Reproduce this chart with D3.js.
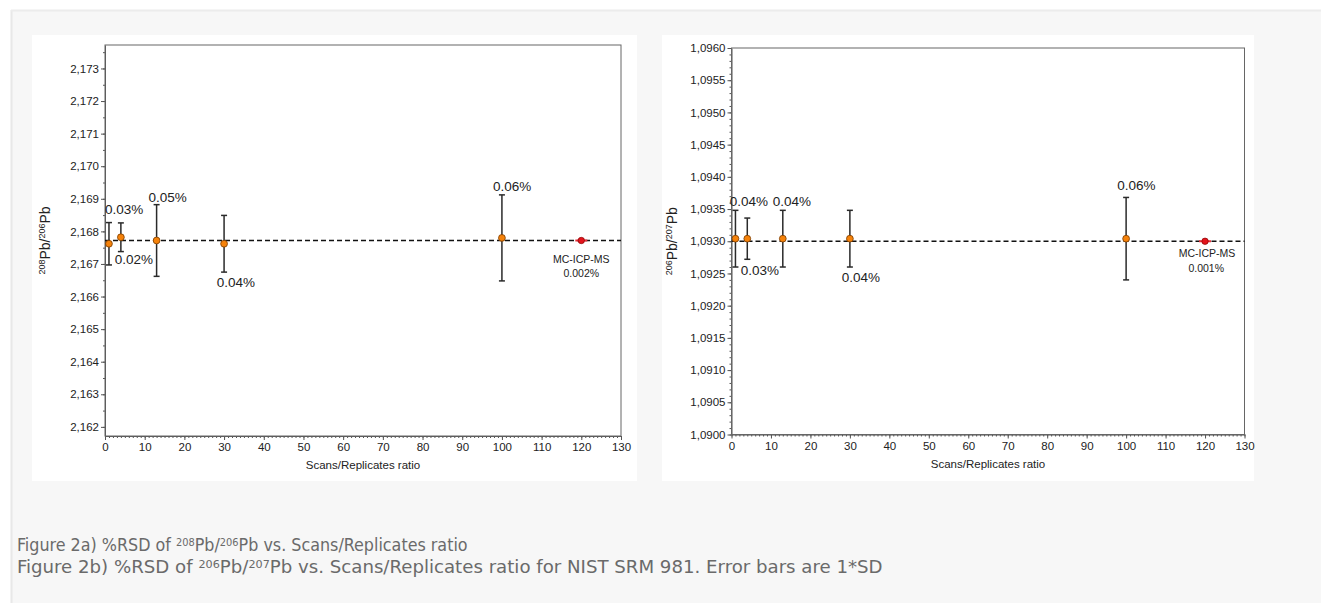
<!DOCTYPE html>
<html>
<head>
<meta charset="utf-8">
<script src="https://cdn.jsdelivr.net/npm/d3@7"></script>
<style>
  body { margin: 0; background: #fff; }
  svg { display: block; }
</style>
</head>
<body>
<div id="page"></div>
<script>
// x values (scans / replicates ratio)
const scansRatio = [1, 4, 13, 30, 100];
const mcRatio = [120];

// Fig 2a: 208Pb/206Pb, mean and 1*SD
const pb208_206 = [2.16762, 2.16782, 2.16772, 2.16762, 2.16780];
const pb208_206Sd = [0.00065, 0.00044, 0.0011, 0.00087, 0.00132];
const mc208_206 = [2.16772];
const mc208_206Sd = [0.00002];
const ref208_206 = 2.16772;

// Fig 2b: 206Pb/207Pb
const pb206_207 = [1.09304, 1.09304, 1.09304, 1.09304, 1.09304];
const pb206_207Sd = [0.00044, 0.00032, 0.00044, 0.00044, 0.00064];
const mc206_207 = [1.0930];
const mc206_207Sd = [0.00001];
const ref206_207 = 1.0930;

// annotation texts and their anchors (data units)
const leftLabels = ["0.03%", "0.02%", "0.05%", "0.04%", "0.06%", "MC-ICP-MS", "0.002%"];
const leftLabelX = [4.8, 7.3, 15.8, 33.0, 102.6, 120, 120];
const leftLabelY = [2.16866, 2.16713, 2.16904, 2.16644, 2.16938, 2.16716, 2.16673];
const rightLabels = ["0.04%", "0.03%", "0.04%", "0.04%", "0.06%", "MC-ICP-MS", "0.001%"];
const rightLabelX = [4.4, 7.2, 15.3, 32.8, 102.6, 120.5, 120.3];
const rightLabelY = [1.09361, 1.09255, 1.09361, 1.09244, 1.09387, 1.09281, 1.09258];

// ticks
const xTickValues = [0, 10, 20, 30, 40, 50, 60, 70, 80, 90, 100, 110, 120, 130];
const leftYTicks = [2.162, 2.163, 2.164, 2.165, 2.166, 2.167, 2.168, 2.169, 2.170, 2.171, 2.172, 2.173];
const rightYTicks = [1.0900, 1.0905, 1.0910, 1.0915, 1.0920, 1.0925, 1.0930, 1.0935, 1.0940, 1.0945, 1.0950, 1.0955, 1.0960];

const svg = d3.select("#page").append("svg")
    .attr("width", 1321)
    .attr("height", 603);

// page background box
svg.append("rect").attr("x", 11).attr("y", 10).attr("width", 1310).attr("height", 593)
    .attr("fill", "#f7f7f7");
svg.append("line").attr("x1", 11.5).attr("x2", 11.5).attr("y1", 10).attr("y2", 603)
    .attr("stroke", "#e8e8e8").attr("stroke-width", 2);
svg.append("line").attr("x1", 11).attr("x2", 1321).attr("y1", 10.5).attr("y2", 10.5)
    .attr("stroke", "#ececec").attr("stroke-width", 2);

function drawChart(opt) {
    const g = svg.append("g");
    g.append("rect")
        .attr("x", opt.panel[0]).attr("y", opt.panel[1])
        .attr("width", opt.panel[2]).attr("height", opt.panel[3])
        .attr("fill", "#fff");

    const x = d3.scaleLinear().domain([0, 130]).range([opt.left, opt.right]);
    const y = d3.scaleLinear().domain(opt.yDomain).range([opt.bottom, opt.top]);

    // minor ticks
    g.append("g")
        .attr("transform", "translate(0," + opt.bottom + ")")
        .call(d3.axisBottom(x).tickValues(d3.range(0, 131, 1)).tickSize(2).tickSizeOuter(0).tickFormat(""))
        .call(a => a.select(".domain").remove());
    g.append("g")
        .attr("transform", "translate(" + opt.left + ",0)")
        .call(d3.axisLeft(y).tickValues(opt.yMinor).tickSize(2).tickSizeOuter(0).tickFormat(""))
        .call(a => a.select(".domain").remove());

    // major axes
    const xa = g.append("g")
        .attr("transform", "translate(0," + opt.bottom + ")")
        .call(d3.axisBottom(x).tickValues(xTickValues).tickSize(4).tickSizeOuter(0).tickPadding(3));
    const ya = g.append("g")
        .attr("transform", "translate(" + opt.left + ",0)")
        .call(d3.axisLeft(y).tickValues(opt.yTicks).tickSize(4).tickSizeOuter(0).tickPadding(2)
            .tickFormat(d => d3.format(opt.fmt)(d).replace(".", ",")));
    g.selectAll(".tick line").attr("stroke", "#555");
    g.selectAll(".domain").attr("stroke", "#555");
    [xa, ya].forEach(a => a.selectAll("text")
        .attr("fill", "#222")
        .style("font-family", "'Liberation Sans', Arial, sans-serif")
        .style("font-size", "11.5px"));

    // frame
    g.append("rect")
        .attr("x", opt.left).attr("y", opt.top)
        .attr("width", opt.right - opt.left).attr("height", opt.bottom - opt.top)
        .attr("fill", "none").attr("stroke", "#666").attr("stroke-width", 1);

    // reference dashed line
    g.append("line")
        .attr("x1", x(0)).attr("x2", x(130))
        .attr("y1", y(opt.ref)).attr("y2", y(opt.ref))
        .attr("stroke", "#111").attr("stroke-width", 1.3)
        .attr("stroke-dasharray", "5,3");

    const pts = scansRatio.map((s, i) => ({ x: s, y: opt.values[i], sd: opt.sd[i] }));

    // error bars
    const eb = g.selectAll(".eb").data(pts).enter().append("g").attr("class", "eb")
        .attr("stroke", "#2a2a2a").attr("stroke-width", 1.5);
    eb.append("line")
        .attr("x1", d => x(d.x)).attr("x2", d => x(d.x))
        .attr("y1", d => y(d.y - d.sd)).attr("y2", d => y(d.y + d.sd));
    eb.append("line")
        .attr("x1", d => x(d.x) - 3).attr("x2", d => x(d.x) + 3)
        .attr("y1", d => y(d.y + d.sd)).attr("y2", d => y(d.y + d.sd));
    eb.append("line")
        .attr("x1", d => x(d.x) - 3).attr("x2", d => x(d.x) + 3)
        .attr("y1", d => y(d.y - d.sd)).attr("y2", d => y(d.y - d.sd));

    g.selectAll(".pt").data(pts).enter().append("circle")
        .attr("cx", d => x(d.x)).attr("cy", d => y(d.y)).attr("r", 3.4)
        .attr("fill", "#f5820a").attr("stroke", "#7a3b00").attr("stroke-width", 0.8);

    // MC-ICP-MS reference point
    const mc = mcRatio.map((s, i) => ({ x: s, y: opt.mc[i], sd: opt.mcSd[i] }));
    g.selectAll(".mcbar").data(mc).enter().append("line")
        .attr("x1", d => x(d.x) - 6).attr("x2", d => x(d.x) + 6)
        .attr("y1", d => y(d.y)).attr("y2", d => y(d.y))
        .attr("stroke", "#e8303a").attr("stroke-width", 2);
    g.selectAll(".mc").data(mc).enter().append("circle")
        .attr("cx", d => x(d.x)).attr("cy", d => y(d.y)).attr("r", 3.2)
        .attr("fill", "#e3141c").attr("stroke", "#8a0000").attr("stroke-width", 0.7);

    // annotations
    g.selectAll(".lab").data(opt.labels).enter().append("text")
        .attr("x", (d, i) => x(opt.labelX[i]))
        .attr("y", (d, i) => y(opt.labelY[i]))
        .attr("text-anchor", "middle")
        .attr("dominant-baseline", "central")
        .attr("fill", "#222")
        .style("font-family", "'Liberation Sans', Arial, sans-serif")
        .style("font-size", (d, i) => i >= 5 ? "10.5px" : "13.5px")
        .text(d => d);

    // axis titles
    g.append("text")
        .attr("x", (opt.left + opt.right) / 2).attr("y", opt.bottom + 33)
        .attr("text-anchor", "middle")
        .attr("fill", "#222")
        .style("font-family", "'Liberation Sans', Arial, sans-serif")
        .style("font-size", "11.5px")
        .text("Scans/Replicates ratio");

    const yl = g.append("text")
        .attr("transform", "translate(" + opt.yLabelX + "," + ((opt.top + opt.bottom) / 2) + ") rotate(-90)")
        .attr("text-anchor", "middle")
        .attr("fill", "#222")
        .style("font-family", "'Liberation Sans', Arial, sans-serif")
        .style("font-size", "14px");
    yl.append("tspan").attr("dy", -5).style("font-size", "9px").text(opt.yIso[0]);
    yl.append("tspan").attr("dy", 5).text("Pb/");
    yl.append("tspan").attr("dy", -5).style("font-size", "9px").text(opt.yIso[1]);
    yl.append("tspan").attr("dy", 5).text("Pb");
}

drawChart({
    panel: [32, 35, 605, 446],
    left: 105, right: 621, top: 45, bottom: 436,
    yDomain: [2.16172, 2.17372],
    yTicks: leftYTicks,
    yMinor: d3.range(0, 24).map(i => 2.162 + i * 0.0005),
    fmt: ".3f",
    ref: ref208_206,
    values: pb208_206, sd: pb208_206Sd,
    mc: mc208_206, mcSd: mc208_206Sd,
    labels: leftLabels, labelX: leftLabelX, labelY: leftLabelY,
    yLabelX: 50, yIso: ["208", "206"]
});

drawChart({
    panel: [662, 35, 592, 446],
    left: 731.5, right: 1244.5, top: 48, bottom: 434.5,
    yDomain: [1.0900, 1.0960],
    yTicks: rightYTicks,
    yMinor: d3.range(0, 61).map(i => 1.0900 + i * 0.0001),
    fmt: ".4f",
    ref: ref206_207,
    values: pb206_207, sd: pb206_207Sd,
    mc: mc206_207, mcSd: mc206_207Sd,
    labels: rightLabels, labelX: rightLabelX, labelY: rightLabelY,
    yLabelX: 677, yIso: ["206", "207"]
});

// caption
const capFont = "'Liberation Sans Narrow', 'DejaVu Sans Condensed', 'Open Sans', sans-serif";
function caption(yPos, a, b, rest, width) {
    const t = svg.append("text")
        .attr("x", 17).attr("y", yPos)
        .attr("fill", "#6a6a6a")
        .style("font-family", capFont)
        .style("font-size", "17px");
    t.append("tspan").text(a);
    t.append("tspan").attr("dy", -5).style("font-size", "10.5px").text(b[0]);
    t.append("tspan").attr("dy", 5).text("Pb/");
    t.append("tspan").attr("dy", -5).style("font-size", "10.5px").text(b[1]);
    t.append("tspan").attr("dy", 5).text(rest);
    const w = t.node().getComputedTextLength();
    t.attr("transform", "translate(17," + yPos + ") scale(" + (width / w) + ",1) translate(-17," + (-yPos) + ")");
}
caption(551, "Figure 2a) %RSD of ", ["208", "206"], "Pb vs. Scans/Replicates ratio", 451);
caption(573, "Figure 2b) %RSD of ", ["206", "207"], "Pb vs. Scans/Replicates ratio for NIST SRM 981. Error bars are 1*SD", 866);
</script>
</body>
</html>
